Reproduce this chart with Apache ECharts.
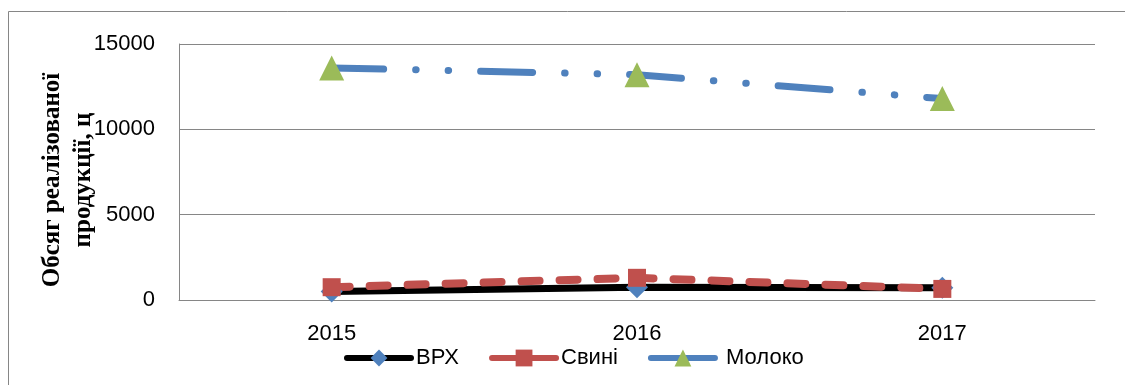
<!DOCTYPE html>
<html>
<head>
<meta charset="utf-8">
<script src="https://cdn.jsdelivr.net/npm/echarts@6/dist/echarts.min.js"></script>
<style>
  html, body { margin: 0; padding: 0; background: #fff; }
  #chart { width: 1125px; height: 385px; }
</style>
</head>
<body>
<div id="chart"></div>
<script>
// Обсяг реалізованої продукції за роками, ц
const years = ['2015', '2016', '2017'];
const vrkh = [500, 750, 720];        // ВРХ
const svyni = [750, 1300, 650];      // Свині
const moloko = [13600, 13200, 11800]; // Молоко

const seriesNames = ['ВРХ', 'Свині', 'Молоко'];
const yAxisTitle = 'Обсяг реалізованої\nпродукції, ц';

const gridColor = '#868686';
const chart = echarts.init(document.getElementById('chart'), null, { renderer: 'canvas' });

chart.setOption({
  animation: false,
  backgroundColor: '#ffffff',
  grid: { left: 179, right: 30, top: 44, bottom: 85 },
  xAxis: {
    type: 'category',
    data: years,
    boundaryGap: true,
    axisLine: { show: true, lineStyle: { color: gridColor, width: 1 } },
    axisTick: { show: false },
    axisLabel: { margin: 23, color: '#000', fontFamily: 'Liberation Sans', fontSize: 22 }
  },
  yAxis: {
    type: 'value',
    min: 0,
    max: 15000,
    interval: 5000,
    axisLine: { show: true, lineStyle: { color: gridColor, width: 1 } },
    axisTick: { show: false },
    splitLine: { show: true, lineStyle: { color: gridColor, width: 1 } },
    axisLabel: {
      margin: 24,
      color: '#000',
      fontFamily: 'Liberation Sans',
      fontSize: 22,
      formatter: v => String(v)
    }
  },
  legend: {
    left: 339,
    top: 342,
    itemWidth: 64,
    itemHeight: 21,
    itemGap: 30,
    data: seriesNames,
    formatter: name => (name === 'Молоко' ? ' ' + name : name),
    textStyle: { color: '#000', fontFamily: 'Liberation Sans', fontSize: 22 },
    lineStyle: { type: 'solid', width: 6, cap: 'round' }
  },
  graphic: [
    {
      type: 'rect',
      silent: true,
      shape: { x: 8.5, y: 11.5, width: 1140, height: 400 },
      style: { fill: 'none', stroke: gridColor, lineWidth: 1 },
      z: -1
    },
    {
      type: 'text',
      silent: true,
      x: 68,
      y: 180,
      rotation: Math.PI / 2,
      style: {
        text: yAxisTitle,
        x: 0,
        y: 0,
        align: 'center',
        verticalAlign: 'middle',
        fontFamily: 'Liberation Serif',
        fontWeight: 'bold',
        fontSize: 25,
        lineHeight: 31,
        fill: '#000'
      }
    }
  ],
  series: [
    {
      name: seriesNames[0],
      type: 'line',
      data: vrkh,
      symbol: 'diamond',
      symbolSize: 22,
      itemStyle: { color: '#4F81BD' },
      lineStyle: { color: '#000000', width: 7, cap: 'round' }
    },
    {
      name: seriesNames[1],
      type: 'line',
      data: svyni,
      symbol: 'rect',
      symbolSize: 18,
      itemStyle: { color: '#C0504D' },
      lineStyle: { color: '#C0504D', width: 8, type: [18, 20], cap: 'round' }
    },
    {
      name: seriesNames[2],
      type: 'line',
      data: moloko,
      symbol: 'triangle',
      symbolSize: 25,
      itemStyle: { color: '#9BBB59' },
      lineStyle: { color: '#4F81BD', width: 7, type: [52, 32, 0.5, 32, 0.5, 32], cap: 'round' }
    }
  ]
});
</script>
</body>
</html>
